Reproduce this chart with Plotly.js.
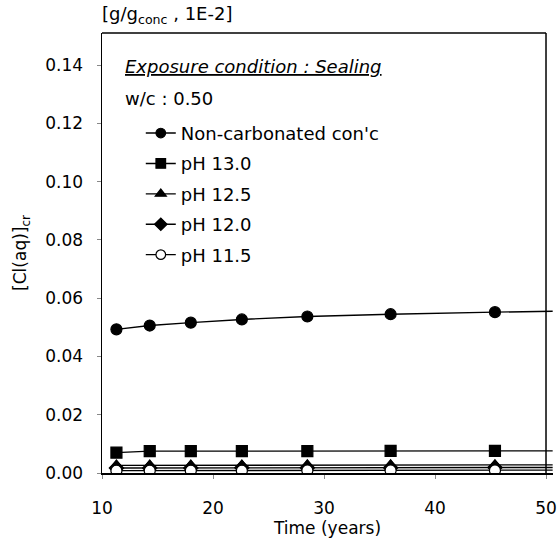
<!DOCTYPE html>
<html>
<head>
<meta charset="utf-8">
<script src="https://cdn.plot.ly/plotly-3.0.1.min.js"></script>
<style>html,body{margin:0;padding:0;background:#fff;}</style>
</head>
<body>
<div id="chart" style="width:558px;height:544px;"></div>
<script>
// Time (years) at which values were computed; last point is the curve end (no marker)
const timeYears = [11.3, 14.3, 18.0, 22.6, 28.5, 36.0, 45.4, 50.6];
const nonCarbonated = [0.0493, 0.0506, 0.0516, 0.0527, 0.0537, 0.0545, 0.0552, 0.0555];
const pH130 = [0.0070, 0.0075, 0.0075, 0.0075, 0.0075, 0.0076, 0.0076, 0.0076];
const pH125 = [0.0026, 0.0026, 0.0026, 0.0026, 0.0027, 0.0027, 0.0027, 0.0028];
const pH120 = [0.0017, 0.0017, 0.0017, 0.0018, 0.0018, 0.0018, 0.0019, 0.0019];
const pH115 = [0.0008, 0.0008, 0.0008, 0.0008, 0.0009, 0.0009, 0.0009, 0.0010];
const seriesNames = ["Non-carbonated con'c", "pH 13.0", "pH 12.5", "pH 12.0", "pH 11.5"];
const xTicks = [10, 20, 30, 40, 50];
const yTicks = [0, 0.02, 0.04, 0.06, 0.08, 0.10, 0.12, 0.14];

const FONT = "DejaVu Sans, Verdana, sans-serif";
const sizes = timeYears.map((_, i) => i === timeYears.length - 1 ? 0 : 11);

function trace(name, y, symbol, fill, group) {
  return {
    x: timeYears, y: y, name: name, type: 'scatter', mode: 'lines+markers',
    legendgroup: group, opacity: 1,
    line: {color: '#000000', width: 1.4},
    marker: {symbol: symbol, size: sizes, color: fill, opacity: 1, line: {color: '#000000', width: 1.2}}
  };
}

const data = [
  trace(seriesNames[0], nonCarbonated, 'circle', '#000000', 'g0'),
  trace(seriesNames[1], pH130, 'square', '#000000', 'g1'),
  trace(seriesNames[2], pH125, 'triangle-up', '#000000', 'g2'),
  trace(seriesNames[3], pH120, 'diamond', '#000000', 'g3'),
  trace(seriesNames[4], pH115, 'circle', '#ffffff', 'g4')
];

const layout = {
  width: 558, height: 544,
  margin: {l: 102, r: 5, t: 33, b: 71},
  paper_bgcolor: '#fff', plot_bgcolor: '#fff',
  font: {family: FONT, size: 17, color: '#000'},
  showlegend: true,
  legend: {
    x: 0.086, y: 0.814, xanchor: 'left', yanchor: 'top',
    bgcolor: 'rgba(0,0,0,0)', borderwidth: 0,
    font: {family: FONT, size: 18, color: '#000'},
    tracegroupgap: 4, itemwidth: 30
  },
  xaxis: {
    range: [10, 50.63], tickvals: xTicks, ticktext: xTicks.map(String),
    showgrid: false, zeroline: false,
    showline: true, linecolor: '#000', linewidth: 1.5, mirror: false,
    ticks: 'outside', ticklen: 4, tickcolor: '#888', tickwidth: 1,
    tickfont: {family: FONT, size: 17, color: '#000'},
    ticklabelstandoff: 15,
    title: {text: 'Time (years)', font: {family: FONT, size: 17, color: '#000'}, standoff: 5}
  },
  yaxis: {
    range: [0, 0.151], tickvals: yTicks, ticktext: yTicks.map(v => v.toFixed(2)),
    showgrid: false, zeroline: false,
    showline: true, linecolor: '#000', linewidth: 1.5, mirror: false,
    ticks: 'outside', ticklen: 4, tickcolor: '#888', tickwidth: 1,
    tickfont: {family: FONT, size: 17, color: '#000'},
    ticklabelstandoff: 10,
    title: {text: '[Cl(aq)]<sub>cr</sub>', font: {family: FONT, size: 17, color: '#000'}, standoff: 14}
  },
  shapes: [
    {type: 'line', xref: 'x', yref: 'paper', x0: 10, x1: 50, y0: 1, y1: 1, line: {color: '#000', width: 1.5}},
    {type: 'line', xref: 'x', yref: 'paper', x0: 50, x1: 50, y0: 0, y1: 1, line: {color: '#000', width: 1.5}}
  ],
  annotations: [
    {text: '[g/g<sub>conc</sub> , 1E-2]', xref: 'paper', yref: 'paper', x: 0, y: 1, xanchor: 'left', yanchor: 'middle',
     xshift: -2, yshift: 18, showarrow: false, font: {family: FONT, size: 18, color: '#000'}},
    {text: '<u><i>Exposure condition : Sealing</i></u>', xref: 'paper', yref: 'paper', x: 0, y: 1, xanchor: 'left', yanchor: 'middle',
     xshift: 21, yshift: -33, showarrow: false, font: {family: FONT, size: 18, color: '#000'}},
    {text: 'w/c : 0.50', xref: 'paper', yref: 'paper', x: 0, y: 1, xanchor: 'left', yanchor: 'middle',
     xshift: 21, yshift: -65, showarrow: false, font: {family: FONT, size: 18, color: '#000'}}
  ]
};

Plotly.newPlot('chart', data, layout, {staticPlot: true, displayModeBar: false});
</script>
</body>
</html>
